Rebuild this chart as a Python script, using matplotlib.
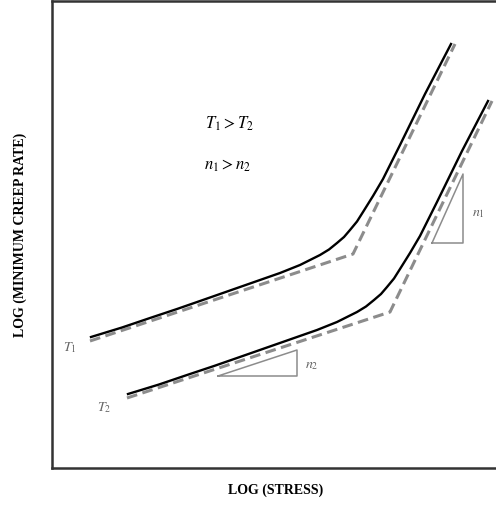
import matplotlib.pyplot as plt

plt.rcParams["font.family"] = ["Liberation Serif", "DejaVu Serif"]
plt.rcParams["mathtext.fontset"] = "stix"

# asymptotes (log stress, log creep rate), arbitrary units
t1_dash_x = [38, 301, 403]
t1_dash_y = [127, 214, 424]
t2_dash_x = [75, 338, 440]
t2_dash_y = [70, 156, 367]

# measured curves
t1_x = [39, 70, 98, 125, 148, 168, 188, 208, 228, 248, 268, 277, 285, 292, 298, 305, 311, 316, 321, 326, 331, 336, 348, 373, 399]
t1_y = [131, 140.5, 150, 159, 167, 174, 181, 188, 195, 203, 213, 218.5, 225, 231, 238, 246.5, 256, 264, 272, 280.5, 289, 299, 323, 374, 424]
t2_x = [76, 107, 135, 162, 185, 205, 225, 245, 265, 285, 305, 314, 322, 329, 335, 342, 348, 353, 358, 363, 368, 373, 385, 410, 436]
t2_y = [74, 83.5, 93, 102, 110, 117, 124, 131, 138, 146, 156, 161.5, 168, 174, 181, 189.5, 199, 207, 215, 223.5, 232, 242, 266, 317, 367]

# slope triangles
tri_n2_x = [166, 245, 245, 166]
tri_n2_y = [92, 92, 118, 92]
tri_n1_x = [380, 411, 411, 380]
tri_n1_y = [225, 225, 294, 225]

fig = plt.figure(figsize=(4.96, 5.06), dpi=100)
ax = fig.add_axes([52 / 496, 37 / 506, 447 / 496, 467 / 506])
ax.set_xlim(0, 447)
ax.set_ylim(0, 467)

gray = "#8c8c8c"
ax.plot(t1_dash_x, t1_dash_y, color=gray, lw=2.2, ls=(0, (3.5, 1.8)))
ax.plot(t2_dash_x, t2_dash_y, color=gray, lw=2.2, ls=(0, (3.5, 1.8)))
ax.plot(t1_x, t1_y, color="black", lw=1.7, solid_joinstyle="round")
ax.plot(t2_x, t2_y, color="black", lw=1.7, solid_joinstyle="round")

ax.plot(tri_n2_x, tri_n2_y, color=gray, lw=1.1)
ax.plot(tri_n1_x, tri_n1_y, color=gray, lw=1.1)

ax.text(253, 103, r"$n_2$", color="#666666", fontsize=10, va="center")
ax.text(420, 256, r"$n_1$", color="#666666", fontsize=10, va="center")
ax.text(11, 121, r"$T_1$", color="#666666", fontsize=10, va="center")
ax.text(45, 61, r"$T_2$", color="#666666", fontsize=10, va="center")

ax.text(177, 345, r"$T_1 > T_2$", fontsize=12, ha="center", va="center")
ax.text(175, 303, r"$n_1 > n_2$", fontsize=12, ha="center", va="center")

ax.set_xticks([])
ax.set_yticks([])
for s in ax.spines.values():
    s.set_linewidth(1.8)
    s.set_color("#333333")

fig.text(276 / 496, 1 - 490 / 506, "LOG (STRESS)", ha="center", va="center",
         fontsize=10, fontweight="bold")
fig.text(20 / 496, 1 - 235 / 506, "LOG (MINIMUM CREEP RATE)", ha="center", va="center",
         fontsize=10, fontweight="bold", rotation=90)

fig.savefig("out.png", dpi=100)
